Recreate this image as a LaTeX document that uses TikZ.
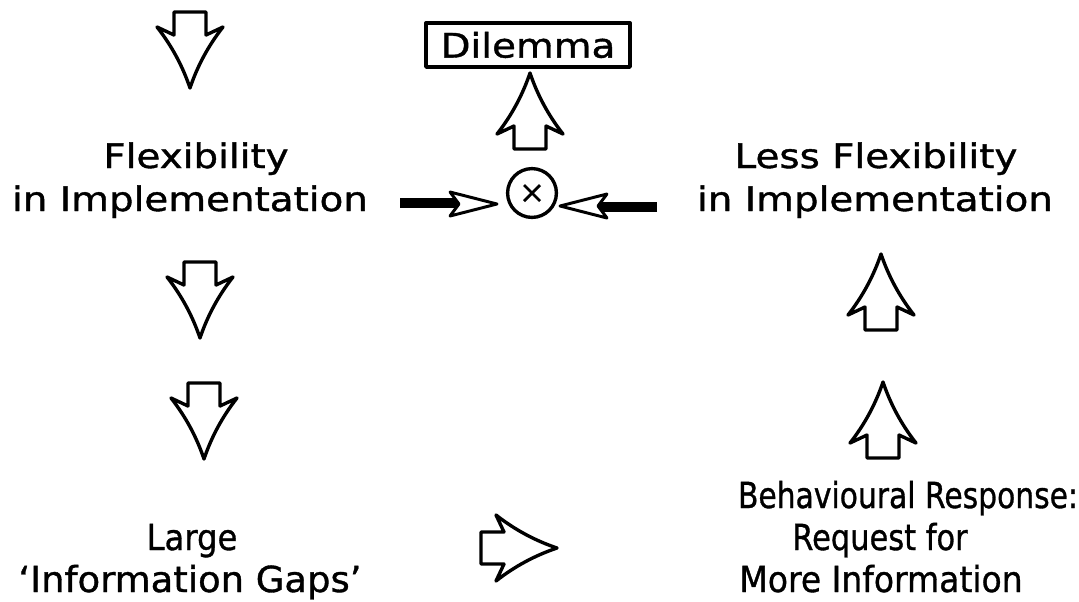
\documentclass[tikz,border=0pt]{standalone}
\usepackage{fontspec}
\usepackage{graphicx}
\newfontfamily\topfont[FakeStretch=1.15,FakeBold=1.2]{DejaVu Sans}
\newfontfamily\botfont[FakeBold=1.0]{DejaVu Sans}
\newcommand{\hsc}[2]{\scalebox{#1}[1]{#2}}
\begin{document}
\begin{tikzpicture}[x=0.025cm,y=-0.025cm,
  outl/.style={line width=2.4pt, line join=round},
  toptext/.style={font=\topfont\fontsize{24}{28}\selectfont, anchor=base, inner sep=0pt},
  bottext/.style={font=\botfont\fontsize{25.5}{30}\selectfont, anchor=base, inner sep=0pt},
  bar/.style={line width=7pt},
  blockarrow/.pic={\draw[outl,fill=white] (-16,-38) -- (-16,-15) -- (-33,-23)
     .. controls (-18.5,-4.6) and (-7.5,15.8) .. (0,38)
     .. controls (7.5,15.8) and (18.5,-4.6) .. (33,-23) -- (16,-15) -- (16,-38) -- cycle;},
  dart/.pic={\draw[line width=2.1pt,line join=round,fill=white] (0,0) -- (-47,-12) -- (-38,0) -- (-47,12) -- cycle;}
]
\fill[white] (0,0) rectangle (1079,601);
\useasboundingbox (0,0) rectangle (1079,601);

% texts
\node[toptext] (lf1) at (196,168) {Flexibility};
\node[toptext] (lf2) at (190,211) {in Implementation};
\node[toptext] (rf1) at (876,168) {Less Flexibility};
\node[toptext] (rf2) at (875,211) {in Implementation};
\node[draw, outl, minimum width=5.1cm, minimum height=1.1cm, inner sep=0pt,
      font=\topfont\fontsize{24}{28}\selectfont] (dil) at (528,45) {Dilemma};

\node[bottext] (lg1) at (192,550) {\hsc{0.9}{Large}};
\node[bottext] (lg2) at (190,592) {\hsc{1.03}{‘Information Gaps’}};
\node[bottext] (br1) at (908,508) {\hsc{0.83}{Behavioural Response:}};
\node[bottext] (br2) at (880,550) {\hsc{0.85}{Request for}};
\node[bottext] (br3) at (881,592) {\hsc{0.92}{More Information}};

% circle with cross
\node[circle, draw, outl, minimum size=1.22cm, inner sep=0pt] (x) at (532,193) {};
\draw[line width=2pt] (x.center) ++(-8,-8) -- ++(16,16);
\draw[line width=2pt] (x.center) ++(-8,8) -- ++(16,-16);

% block arrows
\pic at (190,50) {blockarrow};
\pic at (200,300) {blockarrow};
\pic at (204,421) {blockarrow};
\pic[rotate=180] at (530,111) {blockarrow};
\pic[rotate=180] at (881,292) {blockarrow};
\pic[rotate=180] at (883,420) {blockarrow};
\pic[rotate=90] at (519,548) {blockarrow};

% dart connectors into the cross
\coordinate (lstart) at (400,203);
\coordinate (ltip) at (497,204);
\coordinate (rstart) at (657,207);
\coordinate (rtip) at (560,206);
\draw[bar] (lstart) -- (459,203);
\pic at (ltip) {dart};
\draw[bar] (rstart) -- (598,207);
\pic[rotate=180] at (rtip) {dart};
\end{tikzpicture}
\end{document}
